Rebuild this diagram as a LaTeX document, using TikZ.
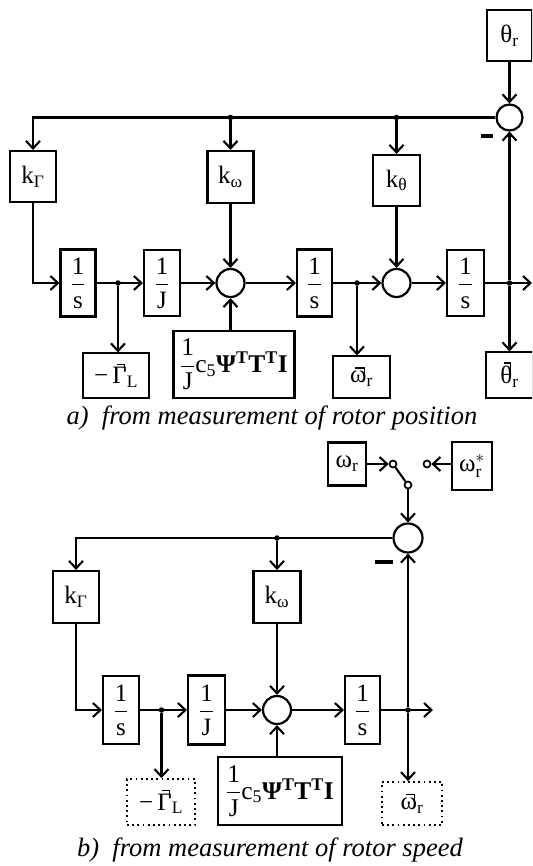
\documentclass[tikz,border=0pt]{standalone}
\usepackage{fontspec}
\setmainfont{Liberation Serif}
\usepackage{amsmath}
\usetikzlibrary{arrows.meta,calc}
\newcommand\est[1]{{\setbox0=\hbox{#1}%
 \dimen0=\ht0 \advance\dimen0 by 2.5pt
 \hbox{\rlap{\kern0.3\wd0\raise\dimen0\hbox{\vrule width0.6\wd0 height1.3pt depth0pt}}%
 \rlap{\kern\dimexpr0.9\wd0-1.3pt\relax\raise\dimexpr\dimen0-7pt\relax\hbox{\vrule width1.3pt height8.3pt depth0pt}}%
 \box0}}}
\newcommand\fra[2]{$\dfrac{\text{#1}}{\text{#2}}$}
\begin{document}
\begin{tikzpicture}[x=1pt,y=-1pt,
  every node/.style={font=\fontsize{25}{29}\selectfont},
  blk/.style={draw,line width=2.1pt,inner sep=0pt},
  outa/.style={draw,line width=1.1pt,inner sep=0pt},
  outb/.style={draw,line width=1.8pt,dash pattern=on 1.8pt off 3.4pt,inner sep=0pt},
  bigb/.style={draw,line width=2.8pt,inner sep=0pt},
  sumc/.style={circle,draw,line width=2.2pt,inner sep=0pt,minimum size=27pt},
  jdot/.style={circle,fill,inner sep=0pt,minimum size=5.5pt},
  swc/.style={circle,draw,line width=1.7pt,inner sep=0pt,minimum size=7pt},
  ln/.style={line width=2.1pt},
  arr/.style={ln,-{Straight Barb[length=7.5pt,width=14pt]}},
  minusbar/.style={line width=3.4pt},
  capt/.style={font=\fontsize{26.5}{30}\selectfont\itshape,anchor=base}]
\useasboundingbox (0,0) rectangle (532,866);
\clip (0,0) rectangle (532,866);

% ---------------- part a ----------------
\node[blk,minimum width=45pt,minimum height=51pt] (thr) at (509.5,35.5) {θ\textsubscript{r}};
\node[sumc,minimum size=26pt] (sA) at (509.5,117.5) {};
\node[blk,minimum width=46pt,minimum height=51pt] (kGa) at (33,176.5) {k\textsubscript{Γ}};
\node[blk,minimum width=46pt,minimum height=52pt] (kwa) at (230.5,177) {k\textsubscript{ω}};
\node[blk,minimum width=47pt,minimum height=51pt] (kta) at (396.5,180.5) {k\textsubscript{θ}};

\node[blk,minimum width=35pt,minimum height=67pt] (s1a) at (78,283) {\fra{1}{s}};
\node[blk,minimum width=36pt,minimum height=66pt] (Ja) at (162,283) {\fra{1}{J}};
\node[sumc,minimum size=28pt] (p1a) at (230.5,283) {};
\node[blk,minimum width=35pt,minimum height=67pt] (s2a) at (314.5,283) {\fra{1}{s}};
\node[sumc,minimum size=28pt] (p2a) at (396.5,283) {};
\node[blk,minimum width=37pt,minimum height=66pt] (s3a) at (465.5,283) {\fra{1}{s}};

\node[bigb,minimum width=121pt,minimum height=67pt] (bigA) at (234,364.5)
  {\fontsize{25.5}{29}\selectfont\fra{1}{J}c\textsubscript{5}\textbf{Ψ}\textsuperscript{\textbf{T}}\textbf{T}\textsuperscript{\textbf{T}}\textbf{I}};
\node[outa,minimum width=66pt,minimum height=45pt] (GLa) at (116,375.5) {−\,\est{Γ}\textsubscript{L}};
\node[outa,minimum width=57pt,minimum height=42pt] (wha) at (361.5,377) {\est{ω}\textsubscript{r}};
\node[outa,minimum width=47pt,minimum height=46pt] (tha) at (509.5,375) {\est{θ}\textsubscript{r}};

\node[jdot] (d1a) at (118,283) {};
\node[jdot] (d2a) at (357,283) {};
\node[jdot] (d3a) at (509.5,283) {};
\node[jdot] (d4a) at (230.5,117.5) {};
\node[jdot] (d5a) at (396.5,117.5) {};
\coordinate (ea) at (532,283);

\draw[arr] (thr.south) -- (sA.north);
\draw[arr] (sA.west) -| (kGa.north);
\draw[arr] (d4a) -- (kwa.north);
\draw[arr] (d5a) -- (kta.north);
\draw[arr] (kGa.south) |- (s1a.west);
\draw[arr] (s1a.east) -- (Ja.west);
\draw[arr] (d1a) -- (d1a |- GLa.north);
\draw[arr] (Ja.east) -- (p1a.west);
\draw[arr] (kwa.south) -- (p1a.north);
\draw[arr] (p1a.south |- bigA.north) -- (p1a.south);
\draw[arr] (p1a.east) -- (s2a.west);
\draw[arr] (s2a.east) -- (p2a.west);
\draw[arr] (d2a) -- (d2a |- wha.north);
\draw[arr] (kta.south) -- (p2a.north);
\draw[arr] (p2a.east) -- (s3a.west);
\draw[arr] (s3a.east) -- (ea);
\draw[arr] (d3a) -- (tha.north);
\draw[arr] (d3a) -- (sA.south);
\draw[minusbar] (481,136) -- (493,136);

\node[capt] (capa) at (272,424) {a)\ \ from measurement of rotor position};

% ---------------- part b ----------------
\node[blk,minimum width=38pt,minimum height=43pt] (wrb) at (347,464) {ω\textsubscript{r}};
\node[blk,minimum width=40pt,minimum height=48pt] (wsb) at (472,466) {$\text{ω}^{*}_{\text{r}}$};
\node[swc] (c1) at (393,464) {};
\node[swc] (c2) at (408,485) {};
\node[swc] (c3) at (427,464) {};
\node[sumc,minimum size=29pt] (sB) at (408,538) {};

\node[blk,minimum width=46pt,minimum height=52pt] (kGb) at (76,597) {k\textsubscript{Γ}};
\node[blk,minimum width=47pt,minimum height=52pt] (kwb) at (277,597) {k\textsubscript{ω}};

\node[blk,minimum width=36pt,minimum height=68pt] (s1b) at (121,710) {\fra{1}{s}};
\node[blk,minimum width=37pt,minimum height=69pt] (Jb) at (206.5,710) {\fra{1}{J}};
\node[sumc,minimum size=28pt] (p1b) at (277,710) {};
\node[blk,minimum width=35pt,minimum height=68pt] (s2b) at (362.5,710) {\fra{1}{s}};

\node[bigb,minimum width=124pt,minimum height=68pt] (bigB) at (280,791)
  {\fontsize{25.5}{29}\selectfont\fra{1}{J}c\textsubscript{5}\textbf{Ψ}\textsuperscript{\textbf{T}}\textbf{T}\textsuperscript{\textbf{T}}\textbf{I}};
\node[outb,minimum width=68pt,minimum height=46pt] (GLb) at (161,802) {−\,\est{Γ}\textsubscript{L}};
\node[outb,minimum width=60pt,minimum height=43pt] (whb) at (412,803.5) {\est{ω}\textsubscript{r}};

\node[jdot] (d1b) at (161.5,710) {};
\node[jdot] (d2b) at (408,710) {};
\node[jdot] (d4b) at (277,538) {};
\coordinate (eb) at (433,710);

\draw[arr] (wrb.east) -- (c1.west);
\draw[arr] (wsb.west |- c3) -- (c3.east);
\draw[ln] (c1) -- (c2);
\draw[arr] (c2.south) -- (sB.north);
\draw[arr] (sB.west) -| (kGb.north);
\draw[arr] (d4b) -- (kwb.north);
\draw[arr] (kGb.south) |- (s1b.west);
\draw[arr] (s1b.east) -- (Jb.west);
\draw[arr] (d1b) -- (d1b |- GLb.north);
\draw[arr] (Jb.east) -- (p1b.west);
\draw[arr] (kwb.south) -- (p1b.north);
\draw[arr] (p1b.south |- bigB.north) -- (p1b.south);
\draw[arr] (p1b.east) -- (s2b.west);
\draw[arr] (s2b.east) -- (eb);
\draw[arr] (d2b) -- (d2b |- whb.north);
\draw[arr] (d2b) -- (sB.south);
\draw[minusbar] (375,562) -- (393,562);

\node[capt] (capb) at (270,856) {b)\ \ from measurement of rotor speed};
\end{tikzpicture}
\end{document}
